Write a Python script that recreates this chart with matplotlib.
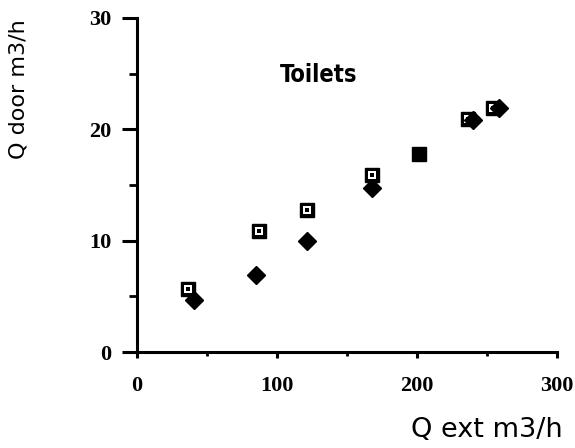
import matplotlib.pyplot as plt
import numpy as np

# open squares (measured)
sq_x = [36.6, 87.1, 121.4, 167.6, 236.0, 254.0]
sq_y = [5.7, 10.9, 12.8, 15.9, 20.9, 21.9]
# point where both series coincide (drawn solid)
both_x = [201.7]
both_y = [17.8]
# filled diamonds (calculated)
di_x = [40.7, 85.2, 121.7, 167.6, 240.0, 258.8]
di_y = [4.7, 6.9, 10.0, 14.7, 20.8, 21.9]

fig = plt.figure(figsize=(5.75, 4.48), dpi=100)
ax = fig.add_axes([0.238, 0.214, 0.731, 0.746])

ax.plot(sq_x, sq_y, ls='none', marker='s', ms=9.5, color='black', zorder=3)
ax.plot(sq_x, sq_y, ls='none', marker='s', ms=5.5, mew=0, color='white', zorder=4)
ax.plot(sq_x, sq_y, ls='none', marker='s', ms=2.2, mew=0, color='black', zorder=5)
ax.plot(both_x, both_y, ls='none', marker='s', ms=9.5, color='black', zorder=3)
ax.plot(di_x, di_y, ls='none', marker='D', ms=9, color='black', zorder=6)

ax.set_xlim(0, 300)
ax.set_ylim(0, 30)
ax.set_xticks([0, 100, 200, 300])
ax.set_yticks([0, 10, 20, 30])
ax.set_xticks([50, 150, 250], minor=True)
ax.set_yticks([5, 15, 25], minor=True)

for s in ['top', 'right']:
    ax.spines[s].set_visible(False)
for s in ['left', 'bottom']:
    ax.spines[s].set_linewidth(2.2)

ax.tick_params(axis='y', which='major', direction='out', length=10.5, width=2.2, pad=8)
ax.tick_params(axis='y', which='minor', direction='out', length=6, width=2)
ax.tick_params(axis='x', which='major', direction='out', length=4, width=2.2, pad=13)
ax.tick_params(axis='x', which='minor', direction='out', length=3, width=2)

for lab in ax.get_xticklabels() + ax.get_yticklabels():
    lab.set_family('Liberation Serif')
    lab.set_fontsize(16)
    lab.set_fontweight('bold')

ax.text(102, 24.9, 'Toilets', fontsize=17, fontweight='bold', family='DejaVu Sans',
        fontstretch='condensed', va='center', ha='left')

fig.text(0.847, 0.04, 'Q ext m3/h', fontsize=19.5, family='DejaVu Sans', ha='center', va='center')
fig.text(0.032, 0.80, 'Q door m3/h', fontsize=16, family='DejaVu Sans', rotation=90,
         ha='center', va='center')

fig.savefig('out.png', dpi=100)
